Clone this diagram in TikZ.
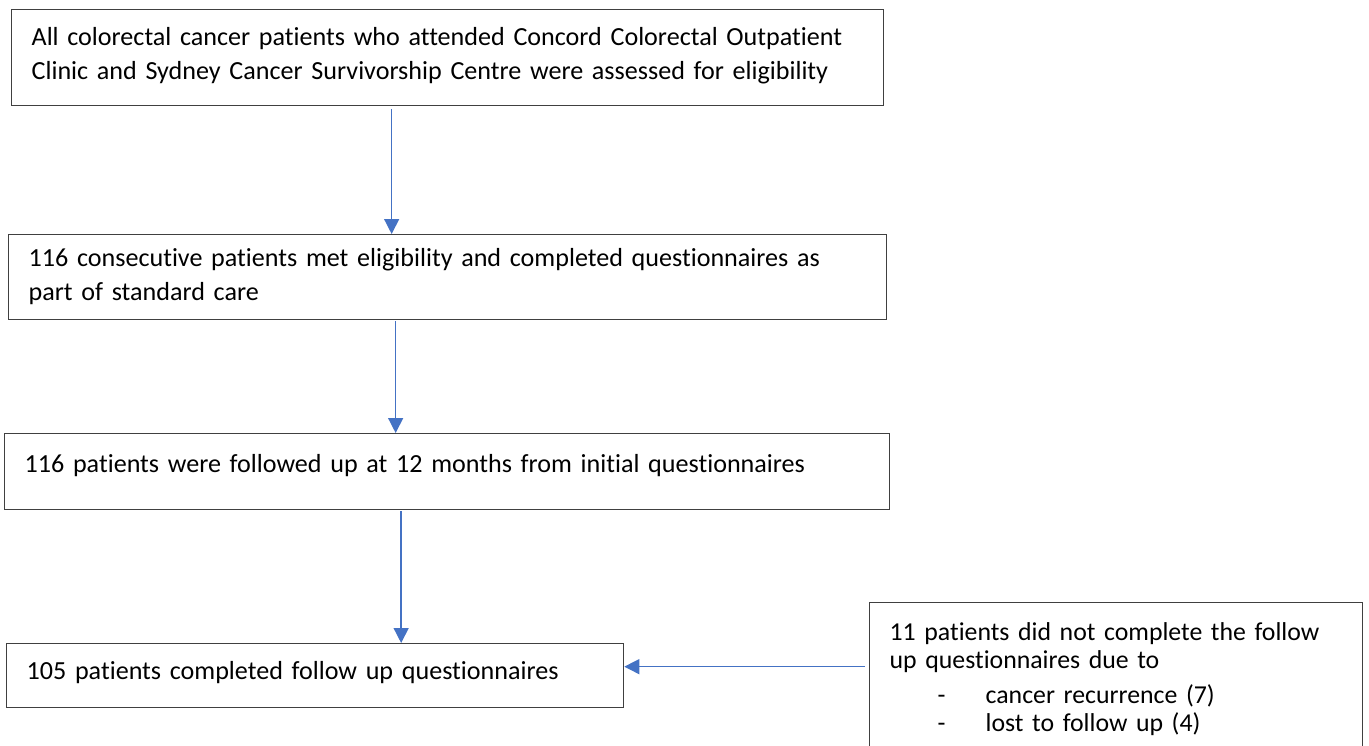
\documentclass[tikz,border=0pt]{standalone}
\usepackage{fontspec}
\setmainfont{Carlito}[Ligatures=CommonOff]
\usetikzlibrary{arrows.meta, positioning}
\definecolor{arrowblue}{HTML}{4472C4}
\definecolor{boxgray}{HTML}{404040}
\newcommand{\reason}[1]{\hspace*{48pt}\makebox[48pt][l]{-}#1}

\begin{document}
\begin{tikzpicture}[x=1pt, y=-1pt,
    stepbox/.style={draw=boxgray, line width=1.3pt, rectangle, anchor=north west,
        inner xsep=20pt, inner ysep=0pt, align=left,
        font=\fontsize{26.1pt}{33.5pt}\selectfont},
    flow/.style={draw=arrowblue, line width=1.4pt, -{Triangle[length=15pt,width=15pt]}},
]
\useasboundingbox (0,0) rectangle (1369,745);

\node (all) [stepbox, text width=832pt, text height=36pt, text depth=60pt] at (11,9)
    {All colorectal cancer patients who attended Concord Colorectal Outpatient\\
     Clinic and Sydney Cancer Survivorship Centre were assessed for eligibility};
\node (met) [stepbox, text width=838pt, text height=32pt, text depth=53pt] at (8,234)
    {116 consecutive patients met eligibility and completed questionnaires as\\
     part of standard care};
\node (fu) [stepbox, text width=845pt, text height=39pt, text depth=37pt] at (4,433)
    {116 patients were followed up at 12 months from initial questionnaires};
\node (done) [stepbox, text width=577pt, text height=36pt, text depth=28pt] at (6,643)
    {105 patients completed follow up questionnaires};
\node (lost) [stepbox, text width=453pt, text height=38pt, text depth=150pt,
    font=\fontsize{25.8pt}{27.5pt}\selectfont] at (869,602)
    {11 patients did not complete the follow\\
     up questionnaires due to\\[8pt]
     \reason{cancer recurrence (7)}\\
     \reason{lost to follow up (4)}};

\draw[flow] ([xshift=-56pt,yshift=-3pt]all.south) -- ([xshift=-56pt]all.south |- met.north);
\draw[flow] ([xshift=-52pt,yshift=-1pt]met.south) -- ([xshift=-52pt]met.south |- fu.north);
\draw[flow] ([xshift=-46pt,yshift=-1pt]fu.south) -- ([xshift=-46pt]fu.south |- done.north);
\draw[flow] ([xshift=-4pt,yshift=9pt]done.east -| lost.west) -- ([yshift=9pt]done.east);
\end{tikzpicture}
\end{document}
